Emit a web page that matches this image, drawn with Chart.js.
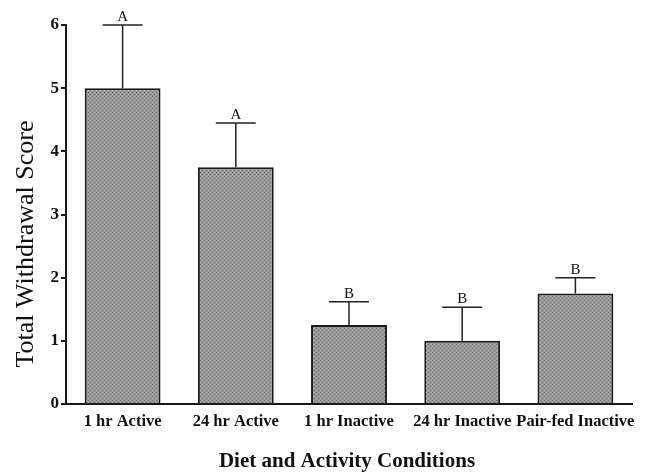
<!DOCTYPE html>
<html>
<head>
<meta charset="utf-8">
<script src="https://cdn.jsdelivr.net/npm/chart.js@4/dist/chart.umd.min.js"></script>
<style>
  html, body { margin: 0; padding: 0; background: #ffffff; }
  #wrap { width: 655px; height: 473px; position: relative; }
</style>
</head>
<body>
<div id="wrap"><canvas id="c" width="655" height="473"></canvas></div>
<script>
// Withdrawal scores by diet/activity condition
const categories = ['1 hr Active', '24 hr Active', '1 hr Inactive', '24 hr Inactive', 'Pair-fed Inactive'];
const meanScores = [5.0, 3.75, 1.25, 1.0, 1.75];
const upperErrors = [6.0, 4.45, 1.62, 1.53, 2.0];
const groupLetters = ['A', 'A', 'B', 'B', 'B'];
const yTicks = [0, 1, 2, 3, 4, 5, 6];
const xTitle = 'Diet and Activity Conditions';
const yTitle = 'Total Withdrawal Score';

// stippled grey fill
function makeStipple() {
  const p = document.createElement('canvas');
  p.width = 4; p.height = 4;
  const g = p.getContext('2d');
  g.fillStyle = '#979797';
  g.fillRect(0, 0, 4, 4);
  g.fillStyle = '#747474';
  g.fillRect(0, 0, 1, 1);
  g.fillRect(2, 2, 1, 1);
  g.fillStyle = '#ababab';
  g.fillRect(2, 0, 1, 1);
  g.fillRect(0, 2, 1, 1);
  return g.createPattern(p, 'repeat');
}

const SERIF = '"Liberation Serif", "Times New Roman", serif';

// error bars with caps and group letters above them
const errorBarPlugin = {
  id: 'errorBars',
  afterDatasetsDraw(chart) {
    const ctx = chart.ctx;
    const y = chart.scales.y;
    const meta = chart.getDatasetMeta(0);
    ctx.save();
    ctx.strokeStyle = '#222';
    ctx.lineWidth = 1.5;
    meta.data.forEach((bar, i) => {
      const x = bar.x;
      const yTop = y.getPixelForValue(upperErrors[i]);
      const yMean = y.getPixelForValue(meanScores[i]);
      ctx.beginPath();
      ctx.moveTo(x, yMean);
      ctx.lineTo(x, yTop);
      ctx.moveTo(x - 20, yTop);
      ctx.lineTo(x + 20, yTop);
      ctx.stroke();
      ctx.fillStyle = '#111';
      ctx.font = '15px ' + SERIF;
      ctx.textAlign = 'center';
      ctx.textBaseline = 'alphabetic';
      ctx.fillText(groupLetters[i], x, yTop - 4);
    });
    ctx.restore();
  }
};

// axis titles
const axisTitlePlugin = {
  id: 'axisTitles',
  afterDraw(chart) {
    const ctx = chart.ctx;
    ctx.save();
    ctx.fillStyle = '#111';
    ctx.textAlign = 'center';
    ctx.textBaseline = 'alphabetic';
    ctx.font = 'bold 21px ' + SERIF;
    ctx.fillText(xTitle, 347, 467);
    ctx.translate(33, 244);
    ctx.rotate(-Math.PI / 2);
    ctx.font = '26px ' + SERIF;
    ctx.fillText(yTitle, 0, 0);
    ctx.restore();
  }
};

const ctx = document.getElementById('c').getContext('2d');
new Chart(ctx, {
  type: 'bar',
  data: {
    labels: categories,
    datasets: [{
      data: meanScores,
      backgroundColor: makeStipple(),
      borderColor: '#1a1a1a',
      borderWidth: 2,
      borderSkipped: 'bottom',
      categoryPercentage: 1.0,
      barPercentage: 0.67
    }]
  },
  options: {
    responsive: false,
    animation: false,
    devicePixelRatio: 1,
    layout: { padding: { left: 0, right: 23, top: 25, bottom: 0 } },
    plugins: {
      legend: { display: false },
      tooltip: { enabled: false }
    },
    scales: {
      x: {
        offset: true,
        grid: { display: false, drawTicks: false },
        border: { color: '#1a1a1a', width: 2 },
        ticks: {
          color: '#111',
          font: { family: SERIF, size: 16.5, weight: 'bold' },
          padding: 8,
          maxRotation: 0,
          autoSkip: false
        },
        afterFit(s) { s.height = 69; }
      },
      y: {
        min: 0,
        max: 6,
        afterBuildTicks(s) { s.ticks = yTicks.map(v => ({ value: v })); },
        grid: { display: true, drawOnChartArea: false, drawTicks: true, tickLength: 5, color: '#1a1a1a', lineWidth: 2 },
        border: { color: '#1a1a1a', width: 2 },
        ticks: {
          color: '#111',
          font: { family: SERIF, size: 17, weight: 'bold' },
          padding: 2
        },
        afterFit(s) { s.width = 66; }
      }
    }
  },
  plugins: [errorBarPlugin, axisTitlePlugin]
});
</script>
</body>
</html>
